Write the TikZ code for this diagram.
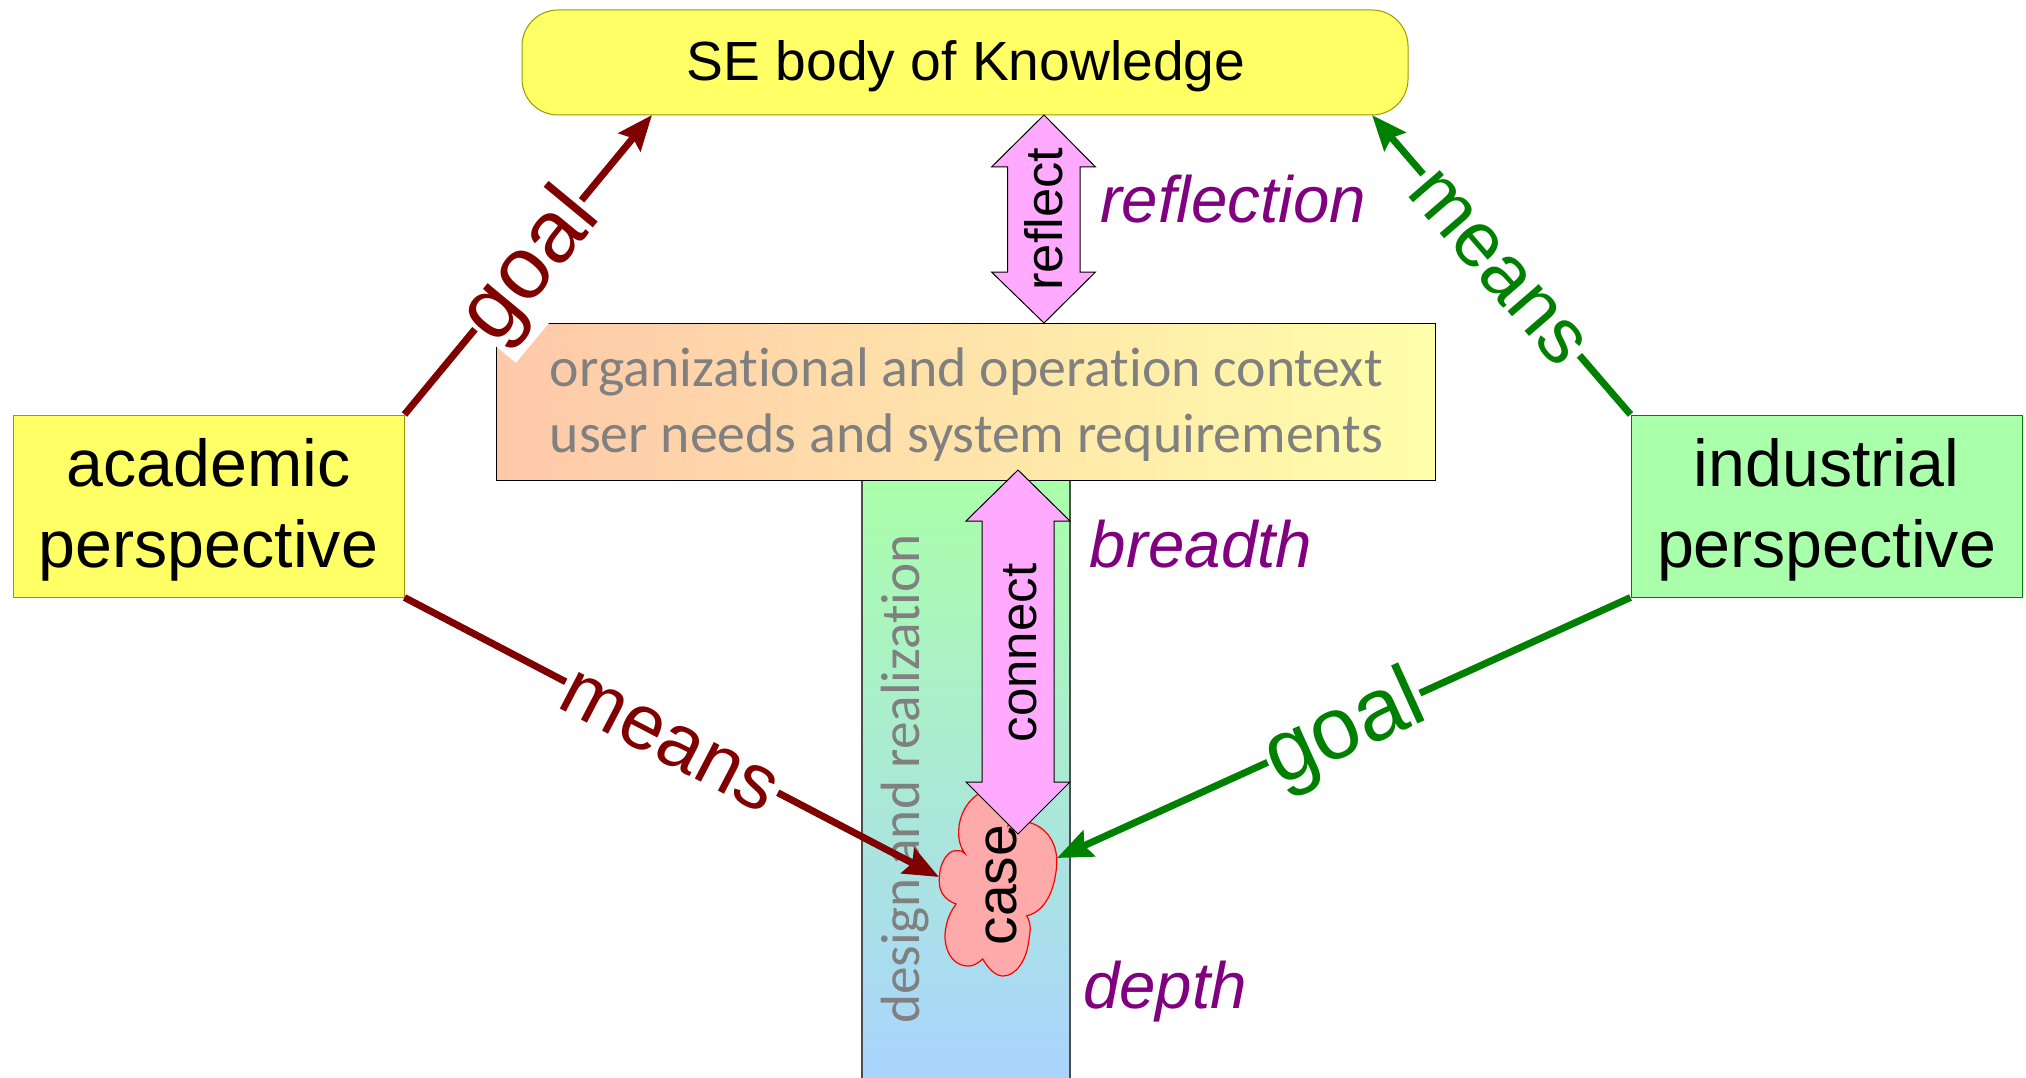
\documentclass[tikz,border=0pt]{standalone}
\usepackage{fontspec}
\setmainfont{Liberation Sans}
\newfontfamily\calib[Ligatures=NoCommon]{Carlito}
\usetikzlibrary{arrows.meta}
\newcommand{\fs}[1]{\fontsize{#1pt}{#1pt}\selectfont}
\definecolor{dred}{HTML}{800000}
\definecolor{dgreen}{HTML}{008000}
\definecolor{purp}{HTML}{800080}
\definecolor{pinkf}{HTML}{FFAAFF}
\definecolor{ylw}{HTML}{FFFF66}
\definecolor{olv}{HTML}{999900}
\definecolor{lgreen}{HTML}{AAFFAA}
\definecolor{lblue}{HTML}{AAD4FF}
\definecolor{peach}{HTML}{FFC8AA}
\definecolor{lylw}{HTML}{FFFFAA}
\definecolor{salmon}{HTML}{FFAAAA}
\tikzset{
  x=1pt,y=-1pt,
  persp/.style={draw=#1,line width=1pt,minimum width=391pt,minimum height=182pt,inner sep=0pt,align=center,font=\fs{66.3}},
  conn/.style={line width=7pt,-{Stealth[length=35pt,width=28pt,inset=5pt]}},
  goallab/.style={sloped,fill=white,inner sep=0pt,font=\fs{88},text height=64pt,text depth=10pt,minimum height=106pt,minimum width=167pt,text=#1},
  meanslab/.style={sloped,fill=white,inner sep=0pt,font=\fs{78},text height=62pt,text depth=10pt,minimum height=106pt,minimum width=239pt,text=#1},
  pinkarrow/.style={draw=black,line width=1pt,fill=pinkf,line join=miter},
  ital/.style={font=\fs{65.5}\itshape,text=purp,inner sep=0pt},
  graytext/.style={font=\calib\fs{55.8},text=gray,inner sep=0pt},
  rottext/.style={rotate=90,inner sep=0pt,text=black},
}
\begin{document}
\begin{tikzpicture}
\useasboundingbox (0,0) rectangle (2026,1078);
\begin{scope}
\clip (0,0) rectangle (2026,1078);
\node[draw=black!70,line width=1.5pt,minimum width=208pt,minimum height=600pt,inner sep=0pt,top color=lgreen,bottom color=lblue] (design) at (966,780) {};
\end{scope}
\node[draw=black,line width=1pt,minimum width=939pt,minimum height=157pt,inner sep=0pt,left color=peach,right color=lylw] (context) at (965.5,401.5) {};
\node[graytext] (c1) at (966.5,371.5) {organizational and operation context};
\node[graytext] (c2) at (966.5,437.5) {user needs and system requirements};
\node[draw=olv,line width=1pt,fill=ylw,rounded corners=36pt,minimum width=886pt,minimum height=105pt,inner sep=0pt] (se) at (965,62.5) {};
\node[inner sep=0pt,font=\fs{55.2}] (setext) at (966,66) {SE body of Knowledge};
\node[persp=olv,fill=ylw] (acad) at (208.5,506) {\rule{0pt}{56pt}academic\\[14pt]perspective};
\node[persp=dgreen,fill=lgreen] (ind) at (1826.5,506) {\rule{0pt}{56pt}industrial\\[14pt]perspective};
\node[graytext,font=\calib\fs{55.3},rotate=90] (dr) at (905,779) {design and realization};
\draw[red,line width=1.2pt,fill=salmon] (965,853.7)
  .. controls (952,836) and (960,806) .. (977.3,794.8)
  .. controls (1000,780) and (1012,800) .. (1008,826)
  .. controls (1015,818) and (1022,820) .. (1030,822.7)
  .. controls (1048,828) and (1058,845) .. (1056.7,865)
  .. controls (1055,890) and (1045,912) .. (1026.7,915.7)
  .. controls (1032,925) and (1030,932) .. (1029,939)
  .. controls (1027,960) and (1016,976) .. (1003,976)
  .. controls (995,976) and (988,968) .. (982.7,959)
  .. controls (977,964) and (973,966) .. (968.3,966)
  .. controls (950,966) and (942,945) .. (946,927)
  .. controls (948,916) and (952,910) .. (956,904)
  .. controls (945,900) and (939,892) .. (939.3,881)
  .. controls (939,862) and (948,850) .. (956.7,850.6)
  .. controls (960,850) and (963,851) .. (965,853.7) -- cycle;
\draw[pinkarrow] (1044,115) -- (1095.5,167) -- (1080,167) -- (1080,272) -- (1095.5,272) -- (1044,323) -- (991.5,272) -- (1007.5,272) -- (1007.5,167) -- (991.5,167) -- cycle;
\draw[pinkarrow] (1018,470) -- (1070,521) -- (1054,521) -- (1054,782) -- (1070,782) -- (1018,834) -- (966,782) -- (982,782) -- (982,521) -- (966,521) -- cycle;
\node[rottext,font=\fs{52.5}] (reflect) at (1044,219) {reflect};
\node[rottext,font=\fs{51}] (connect) at (1020,653) {connect};
\node[rottext,font=\fs{57}] (case) at (1001,885) {case};
\node[ital] (reflection) at (1233,199) {reflection};
\node[ital] (breadth) at (1201,544) {breadth};
\node[ital] (depth) at (1165,992) {depth};
\coordinate (t1) at (652,115);
\coordinate (t2) at (1372,115);
\coordinate (t3) at (939,877);
\coordinate (t4) at (1057,858);
\draw[conn,dred] (acad.north east) -- node[goallab=dred,pos=.5]{goal} (t1);
\draw[conn,dgreen] (ind.north west) -- node[meanslab=dgreen,pos=.5]{means} (t2);
\draw[conn,dred] (acad.south east) -- node[meanslab=dred,pos=.5]{means} (t3);
\draw[conn,dgreen] (ind.south west) -- node[goallab=dgreen,pos=.5]{goal} (t4);
\end{tikzpicture}
\end{document}
